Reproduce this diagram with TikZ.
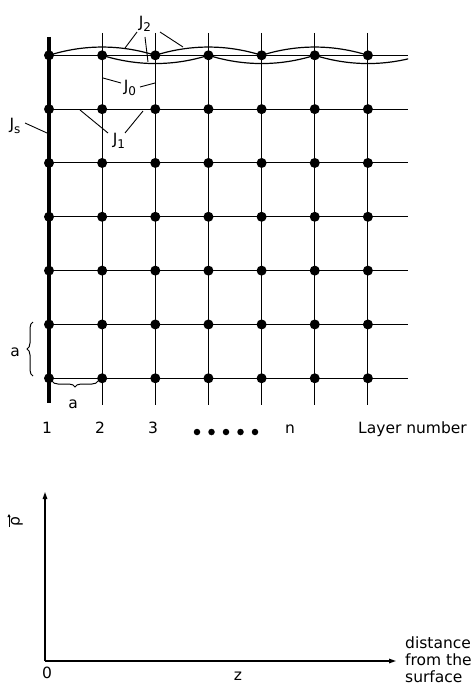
\documentclass[tikz,border=0pt]{standalone}
\usepackage{fontspec}
\setmainfont{DejaVu Sans}
\usetikzlibrary{decorations.pathreplacing,arrows.meta}
\newcommand{\Jlab}[1]{J\raisebox{-0.55ex}{\fontsize{12}{14}\selectfont #1}}
\begin{document}
\begin{tikzpicture}[x=1pt,y=-1pt,
  gridline/.style={line width=1pt},
  surfline/.style={line width=4pt},
  site/.style={circle,fill=black,inner sep=0pt,minimum size=10pt},
  smalldot/.style={circle,fill=black,inner sep=0pt,minimum size=6.5pt},
  lbl/.style={font=\fontsize{15.5}{18}\selectfont,inner sep=0pt},
  lead/.style={line width=0.9pt},
  bond/.style={line width=1.2pt},
  axisline/.style={line width=1.3pt,-{Triangle[length=7pt,width=4.5pt]}},
  vecarrow/.style={line width=0.9pt,-{Triangle[length=3pt,width=3pt]}},
  brc/.style={decorate,decoration={brace,amplitude=6pt},line width=1pt}]
\useasboundingbox (0,0) rectangle (475,687);

% lattice coordinates
\foreach \i in {1,...,7} {
  \foreach \j in {1,...,7} {
    \coordinate (c\i-\j) at ({49+53.15*(\i-1)},{55.3+53.83*(\j-1)});
  }
  \coordinate (t\i) at ({49+53.15*(\i-1)},33);
  \coordinate (b\i) at ({49+53.15*(\i-1)},405);
  \coordinate (r\i) at (408,{55.3+53.83*(\i-1)});
}
% grid lines
\foreach \i in {2,...,7} { \draw[gridline] (t\i) -- (b\i); }
\foreach \j in {1,...,7} { \draw[gridline] (c1-\j) -- (r\j); }
\coordinate (st) at (49,37);
\coordinate (sb) at (49,403);
\draw[surfline] (st) -- (sb);

% J2 bonds
\draw[bond] (c1-1) .. controls +(35,-11) and +(-35,-11) .. (c3-1);
\draw[bond] (c3-1) .. controls +(35,-11) and +(-35,-11) .. (c5-1);
\draw[bond] (c5-1) .. controls +(35,-11) and +(-35,-11) .. (c7-1);
\draw[bond] (c2-1) .. controls +(35,11) and +(-35,11) .. (c4-1);
\draw[bond] (c4-1) .. controls +(35,11) and +(-35,11) .. (c6-1);
\coordinate (c8-1) at (421.1,55.3);
\begin{scope}
  \clip (300,40) rectangle (408,80);
  \draw[bond] (c6-1) .. controls +(35,11) and +(-35,11) .. (c8-1);
\end{scope}

% sites
\foreach \i in {1,...,7} {
  \foreach \j in {1,...,7} {
    \node[site] (n\i-\j) at (c\i-\j) {};
  }
}

% labels with leaders
\node[lbl] (J2) at (145,24) {\Jlab{2}};
\coordinate (j2s1) at (137,32); \coordinate (j2e1) at (125,48);
\coordinate (j2s2) at (145,37); \coordinate (j2e2) at (148,62);
\coordinate (j2s3) at (160,32); \coordinate (j2e3) at (183,47);
\draw[lead] (j2s1) -- (j2e1);
\draw[lead] (j2s2) -- (j2e2);
\draw[lead] (j2s3) -- (j2e3);

\node[lbl] (J0) at (130,88) {\Jlab{0}};
\coordinate (j0s1) at (121,83); \coordinate (j0e1) at (103,78);
\coordinate (j0s2) at (140,87); \coordinate (j0e2) at (155,83);
\draw[lead] (j0s1) -- (j0e1);
\draw[lead] (j0s2) -- (j0e2);

\node[lbl] (Js) at (15,126) {\Jlab{s}};
\coordinate (jss) at (25,123); \coordinate (jse) at (47,133);
\draw[lead] (jss) -- (jse);

\node[lbl] (J1) at (119,141) {\Jlab{1}};
\coordinate (j1s1) at (108,133); \coordinate (j1e1) at (80,110);
\coordinate (j1s2) at (125,133); \coordinate (j1e2) at (143,111);
\draw[lead] (j1s1) -- (j1e1);
\draw[lead] (j1s2) -- (j1e2);

% braces
\coordinate (bv1) at (33,376); \coordinate (bv2) at (33,322);
\draw[brc] (bv1) -- (bv2);
\node[lbl] (av) at (15,352) {a};
\coordinate (bh1) at (98,381); \coordinate (bh2) at (52,381);
\draw[brc] (bh1) -- (bh2);
\node[lbl] (ah) at (73,404) {a};

% layer numbers
\node[lbl,anchor=base] (L1) at (47,433) {1};
\node[lbl,anchor=base] (L2) at (100,433) {2};
\node[lbl,anchor=base] (L3) at (153,433) {3};
\foreach \k in {0,...,4} { \node[smalldot] (d\k) at ({197+14.5*\k},432) {}; }
\node[lbl,anchor=base] (Ln) at (290,433) {n};
\node[lbl,anchor=base west] (Lt) at (358,433) {Layer number};

% lower axes
\coordinate (O) at (45,661);
\coordinate (ytip) at (45,492);
\coordinate (xtip) at (396,661);
\draw[axisline] (O) -- (ytip);
\draw[axisline] (O) -- (xtip);
\node[lbl,rotate=90,anchor=center] (rho) at (17,522) {ρ};
\coordinate (rv1) at (9,527);
\coordinate (rv2) at (9,514);
\draw[vecarrow] (rv1) -- (rv2);
\node[lbl,anchor=base] (zero) at (47,678) {0};
\node[lbl,anchor=base] (zl) at (238,680) {z};
\node[lbl,anchor=base west] (dist1) at (405,648) {distance};
\node[lbl,anchor=base west] (dist2) at (405,665) {from the};
\node[lbl,anchor=base west] (dist3) at (405,682) {surface};
\end{tikzpicture}
\end{document}
